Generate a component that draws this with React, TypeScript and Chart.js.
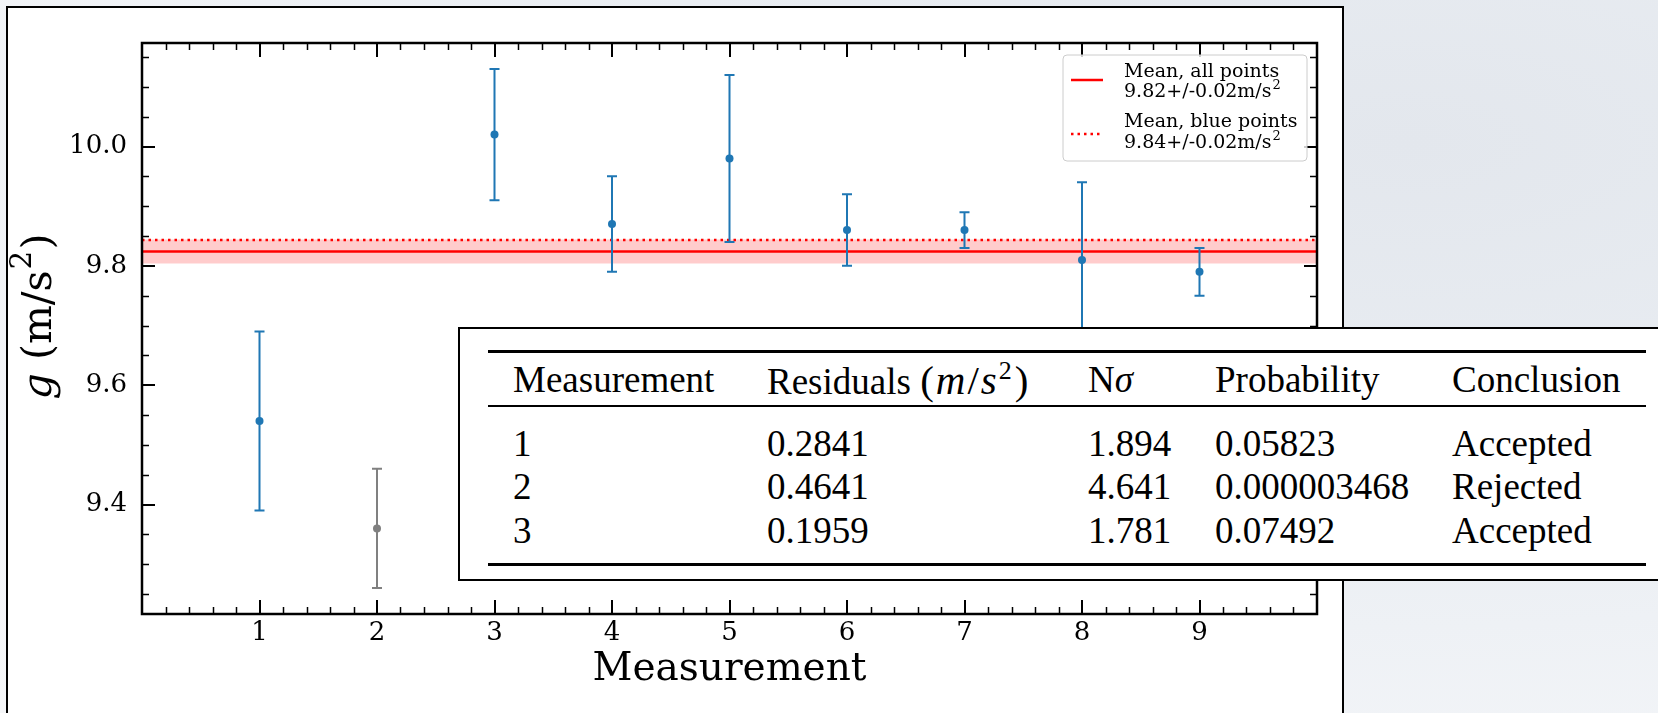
import React, { useEffect, useRef } from 'react';
import { Chart, registerables } from 'chart.js';

Chart.register(...registerables);

// ---------------- data ----------------
const MEASUREMENTS = [1, 2, 3, 4, 5, 6, 7, 8, 9];
const G_VALUES = [9.54, 9.36, 10.02, 9.87, 9.98, 9.86, 9.86, 9.81, 9.79];
const G_ERRORS = [0.15, 0.10, 0.11, 0.08, 0.14, 0.06, 0.03, 0.13, 0.04];
const REJECTED_MEASUREMENTS = [2];

const MEAN_ALL = 9.8241;
const MEAN_ALL_ERR = 0.02;
const MEAN_BLUE = 9.8433;

const X_RANGE = [0, 10];
const Y_RANGE = [9.2165, 10.1735];
const X_TICKS = [1, 2, 3, 4, 5, 6, 7, 8, 9];
const Y_TICKS = [9.4, 9.6, 9.8, 10.0];
const X_MINOR_STEP = 0.2;
const Y_MINOR_STEP = 0.05;

const LEGEND_ALL = ['Mean, all points', '9.82+/-0.02m/s', '2'];
const LEGEND_BLUE = ['Mean, blue points', '9.84+/-0.02m/s', '2'];

const X_TITLE = 'Measurement';

const TABLE_MEASUREMENT = ['1', '2', '3'];
const TABLE_RESIDUALS = ['0.2841', '0.4641', '0.1959'];
const TABLE_NSIGMA = ['1.894', '4.641', '1.781'];
const TABLE_PROBABILITY = ['0.05823', '0.000003468', '0.07492'];
const TABLE_CONCLUSION = ['Accepted', 'Rejected', 'Accepted'];

// ---------------- styles ----------------
const BLUE = '#1f77b4';
const GRAY = '#808080';
const RED = '#ff0000';
const SERIF = '"DejaVu Serif", serif';
const TABLE_FONT = '"Liberation Serif", "Times New Roman", serif';

const W = 1658;
const H = 713;

const errorBarPlugin = {
  id: 'errorBars',
  beforeDatasetDraw(chart: any, args: any) {
    if (args.index !== 0) return;
    const { ctx, scales } = chart;
    const xs = scales.x;
    const ys = scales.y;
    ctx.save();
    ctx.lineWidth = 2;
    MEASUREMENTS.forEach((m, i) => {
      const color = REJECTED_MEASUREMENTS.includes(m) ? GRAY : BLUE;
      const px = xs.getPixelForValue(m);
      const yTop = ys.getPixelForValue(G_VALUES[i] + G_ERRORS[i]);
      const yBot = ys.getPixelForValue(G_VALUES[i] - G_ERRORS[i]);
      ctx.strokeStyle = color;
      ctx.beginPath();
      ctx.moveTo(px, yTop);
      ctx.lineTo(px, yBot);
      ctx.moveTo(px - 5, yTop);
      ctx.lineTo(px + 5, yTop);
      ctx.moveTo(px - 5, yBot);
      ctx.lineTo(px + 5, yBot);
      ctx.stroke();
    });
    ctx.restore();
  },
};

function drawSup(ctx: any, x: number, y: number, base: string, sup: string, size: number, supSize: number) {
  ctx.font = `${size}px ${SERIF}`;
  ctx.textAlign = 'left';
  ctx.textBaseline = 'alphabetic';
  ctx.fillText(base, x, y);
  const w = ctx.measureText(base).width;
  ctx.font = `${supSize}px ${SERIF}`;
  ctx.fillText(sup, x + w + 1, y - size * 0.42);
}

const framePlugin = {
  id: 'frameTicks',
  afterDatasetsDraw(chart: any) {
    const { ctx, chartArea: ca, scales } = chart;
    const xs = scales.x;
    const ys = scales.y;
    ctx.save();
    ctx.strokeStyle = '#000';
    // minor ticks
    ctx.lineWidth = 1.5;
    ctx.beginPath();
    for (let v = X_RANGE[0] + X_MINOR_STEP; v < X_RANGE[1] - 1e-9; v += X_MINOR_STEP) {
      if (Math.abs(v - Math.round(v)) < 1e-6) continue;
      const p = Math.round(xs.getPixelForValue(v)) + 0.5;
      ctx.moveTo(p, ca.bottom);
      ctx.lineTo(p, ca.bottom - 7);
      ctx.moveTo(p, ca.top);
      ctx.lineTo(p, ca.top + 7);
    }
    for (let k = Math.ceil(Y_RANGE[0] / Y_MINOR_STEP); k * Y_MINOR_STEP < Y_RANGE[1]; k++) {
      const v = k * Y_MINOR_STEP;
      if (Y_TICKS.some((t) => Math.abs(t - v) < 1e-6)) continue;
      const p = Math.round(ys.getPixelForValue(v)) + 0.5;
      ctx.moveTo(ca.left, p);
      ctx.lineTo(ca.left + 7, p);
      ctx.moveTo(ca.right, p);
      ctx.lineTo(ca.right - 7, p);
    }
    ctx.stroke();
    // major ticks
    ctx.lineWidth = 2;
    ctx.beginPath();
    X_TICKS.forEach((v) => {
      const p = Math.round(xs.getPixelForValue(v));
      ctx.moveTo(p, ca.bottom);
      ctx.lineTo(p, ca.bottom - 14);
      ctx.moveTo(p, ca.top);
      ctx.lineTo(p, ca.top + 14);
    });
    Y_TICKS.forEach((v) => {
      const p = Math.round(ys.getPixelForValue(v));
      ctx.moveTo(ca.left, p);
      ctx.lineTo(ca.left + 13, p);
      ctx.moveTo(ca.right, p);
      ctx.lineTo(ca.right - 13, p);
    });
    ctx.stroke();
    // frame
    ctx.lineWidth = 2.5;
    ctx.strokeRect(ca.left, ca.top, ca.right - ca.left, ca.bottom - ca.top);

    // legend
    const bw = 244;
    const bh = 106;
    const bx = ca.right - 10 - bw;
    const by = ca.top + 12;
    ctx.beginPath();
    const r = 4;
    ctx.moveTo(bx + r, by);
    ctx.arcTo(bx + bw, by, bx + bw, by + bh, r);
    ctx.arcTo(bx + bw, by + bh, bx, by + bh, r);
    ctx.arcTo(bx, by + bh, bx, by, r);
    ctx.arcTo(bx, by, bx + bw, by, r);
    ctx.closePath();
    ctx.fillStyle = 'rgba(255,255,255,0.8)';
    ctx.fill();
    ctx.strokeStyle = '#cccccc';
    ctx.lineWidth = 1;
    ctx.stroke();

    ctx.strokeStyle = RED;
    ctx.lineWidth = 2.5;
    ctx.beginPath();
    ctx.moveTo(bx + 8, by + 25);
    ctx.lineTo(bx + 40, by + 25);
    ctx.stroke();
    ctx.setLineDash([2.5, 4]);
    ctx.beginPath();
    ctx.moveTo(bx + 8, by + 79);
    ctx.lineTo(bx + 40, by + 79);
    ctx.stroke();
    ctx.setLineDash([]);

    const fs = 19;
    ctx.fillStyle = '#000';
    ctx.font = `${fs}px ${SERIF}`;
    ctx.textAlign = 'left';
    ctx.textBaseline = 'alphabetic';
    ctx.fillText(LEGEND_ALL[0], bx + 61, by + 22);
    drawSup(ctx, bx + 61, by + 42, LEGEND_ALL[1], LEGEND_ALL[2], fs, 13);
    ctx.font = `${fs}px ${SERIF}`;
    ctx.fillText(LEGEND_BLUE[0], bx + 61, by + 72);
    drawSup(ctx, bx + 61, by + 93, LEGEND_BLUE[1], LEGEND_BLUE[2], fs, 13);

    ctx.restore();
  },
  afterDraw(chart: any) {
    const { ctx, chartArea: ca } = chart;
    ctx.save();
    ctx.translate(40, (ca.top + ca.bottom) / 2 - 12);
    ctx.rotate(-Math.PI / 2);
    ctx.fillStyle = '#000';
    ctx.textBaseline = 'middle';
    ctx.textAlign = 'left';
    const size = 41;
    const supSize = size * 0.72;
    ctx.font = `italic ${size}px ${SERIF}`;
    const g = 'g';
    const rest = ' (m/s';
    const sup = '2';
    const close = ')';
    const wg = ctx.measureText(g).width;
    ctx.font = `${size}px ${SERIF}`;
    const wr = ctx.measureText(rest).width;
    const wc = ctx.measureText(close).width;
    ctx.font = `${supSize}px ${SERIF}`;
    const ws = ctx.measureText(sup).width;
    const total = wg + wr + ws + wc + 2;
    let x = -total / 2;
    ctx.font = `italic ${size}px ${SERIF}`;
    ctx.fillText(g, x, 0);
    x += wg;
    ctx.font = `${size}px ${SERIF}`;
    ctx.fillText(rest, x, 0);
    x += wr + 1;
    ctx.font = `${supSize}px ${SERIF}`;
    ctx.fillText(sup, x, -size * 0.4);
    x += ws + 1;
    ctx.font = `${size}px ${SERIF}`;
    ctx.fillText(close, x, 0);
    ctx.restore();
  },
};

function ChartCanvas() {
  const ref = useRef<HTMLCanvasElement | null>(null);
  useEffect(() => {
    if (!ref.current) return;
    const points = MEASUREMENTS.map((m, i) => ({ x: m, y: G_VALUES[i] }));
    const colors = MEASUREMENTS.map((m) => (REJECTED_MEASUREMENTS.includes(m) ? GRAY : BLUE));
    const chart = new Chart(ref.current, {
      type: 'scatter',
      data: {
        datasets: [
          {
            label: 'g',
            data: points,
            pointRadius: 4,
            pointHoverRadius: 4,
            pointBackgroundColor: colors,
            pointBorderColor: colors,
            pointBorderWidth: 0,
          },
          {
            type: 'line',
            label: 'Mean, blue points',
            data: [
              { x: X_RANGE[0], y: MEAN_BLUE },
              { x: X_RANGE[1], y: MEAN_BLUE },
            ],
            borderColor: RED,
            borderWidth: 2.5,
            borderDash: [2.5, 4],
            pointRadius: 0,
            fill: false,
          },
          {
            type: 'line',
            label: 'Mean, all points',
            data: [
              { x: X_RANGE[0], y: MEAN_ALL },
              { x: X_RANGE[1], y: MEAN_ALL },
            ],
            borderColor: RED,
            borderWidth: 2.5,
            pointRadius: 0,
            fill: false,
          },
          {
            type: 'line',
            label: 'band',
            data: [
              { x: X_RANGE[0], y: MEAN_ALL + MEAN_ALL_ERR },
              { x: X_RANGE[1], y: MEAN_ALL + MEAN_ALL_ERR },
            ],
            borderWidth: 0,
            borderColor: 'rgba(0,0,0,0)',
            pointRadius: 0,
            backgroundColor: 'rgba(255,0,0,0.2)',
            fill: { value: MEAN_ALL - MEAN_ALL_ERR },
          },
        ] as any,
      },
      options: {
        animation: false,
        responsive: false,
        devicePixelRatio: 1,
        events: [],
        layout: { padding: { top: 43, right: W - 1317, left: 0, bottom: 0 } },
        plugins: {
          legend: { display: false },
          tooltip: { enabled: false },
        },
        scales: {
          x: {
            type: 'linear',
            min: X_RANGE[0],
            max: X_RANGE[1],
            afterBuildTicks: (s: any) => {
              s.ticks = X_TICKS.map((v) => ({ value: v }));
            },
            afterFit: (s: any) => {
              s.height = H - 614;
            },
            grid: { display: false, drawTicks: false },
            border: { display: false },
            ticks: {
              padding: 4,
              color: '#000',
              font: { family: SERIF, size: 26 },
              maxRotation: 0,
              autoSkip: false,
              callback: (v: any) => String(v),
            },
            title: {
              display: true,
              text: X_TITLE,
              color: '#000',
              font: { family: SERIF, size: 39 },
              padding: { top: 0, bottom: 20 },
            },
          },
          y: {
            type: 'linear',
            min: Y_RANGE[0],
            max: Y_RANGE[1],
            afterBuildTicks: (s: any) => {
              s.ticks = Y_TICKS.map((v) => ({ value: v }));
            },
            afterFit: (s: any) => {
              s.width = 142;
            },
            grid: { display: false, drawTicks: false },
            border: { display: false },
            ticks: {
              padding: 15,
              color: '#000',
              font: { family: SERIF, size: 26 },
              autoSkip: false,
              callback: (v: any) => Number(v).toFixed(1),
            },
          },
        },
      },
      plugins: [errorBarPlugin, framePlugin],
    } as any);
    return () => chart.destroy();
  }, []);
  return (
    <canvas
      ref={ref}
      width={W}
      height={H}
      style={{ position: 'absolute', left: 0, top: 0, width: W, height: H }}
    />
  );
}

const cellBase: React.CSSProperties = {
  position: 'absolute',
  whiteSpace: 'nowrap',
  height: 44,
  lineHeight: '44px',
  fontFamily: TABLE_FONT,
  fontSize: 37,
  color: '#000',
};

function ResultsTable() {
  const colX = [53, 307, 628, 755, 992];
  const rowY = [51, 115, 158, 202];
  const rows = TABLE_MEASUREMENT.map((m, i) => [
    m,
    TABLE_RESIDUALS[i],
    TABLE_NSIGMA[i],
    TABLE_PROBABILITY[i],
    TABLE_CONCLUSION[i],
  ]);
  const rule = (top: number, h: number): React.CSSProperties => ({
    position: 'absolute',
    left: 28,
    width: 1158,
    top: top - h / 2,
    height: h,
    background: '#000',
  });
  return (
    <div
      style={{
        position: 'absolute',
        left: 458,
        top: 327,
        width: 1300,
        height: 254,
        boxSizing: 'border-box',
        border: '2.5px solid #000',
        background: '#fff',
      }}
    >
      <div style={rule(22, 3)} />
      <div style={rule(77, 2)} />
      <div style={rule(235, 3)} />
      <div style={{ ...cellBase, left: colX[0], top: rowY[0] - 22 }}>Measurement</div>
      <div style={{ ...cellBase, left: colX[1], top: rowY[0] - 22 }}>
        Residuals{' '}
        <span style={{ fontSize: 41 }}>
          (<i style={{ marginLeft: 2 }}>m</i>
          <span style={{ margin: '0 2px' }}>/</span>
          <i>s</i>
          <sup style={{ fontSize: 26, lineHeight: 0, marginLeft: 2 }}>2</sup>
          <span style={{ marginLeft: 3 }}>)</span>
        </span>
      </div>
      <div style={{ ...cellBase, left: colX[2], top: rowY[0] - 22 }}>
        N<i>σ</i>
      </div>
      <div style={{ ...cellBase, left: colX[3], top: rowY[0] - 22 }}>Probability</div>
      <div style={{ ...cellBase, left: colX[4], top: rowY[0] - 22 }}>Conclusion</div>
      {rows.map((r, ri) =>
        r.map((txt, ci) => (
          <div key={`${ri}-${ci}`} style={{ ...cellBase, left: colX[ci], top: rowY[ri + 1] - 22 }}>
            {txt}
          </div>
        ))
      )}
    </div>
  );
}

export default function App() {
  return (
    <div
      style={{
        position: 'fixed',
        left: 0,
        top: 0,
        width: W,
        height: H,
        overflow: 'hidden',
        background:
          'radial-gradient(ellipse at 85% 20%, #e3e7ed 0%, #e9edf2 40%, #f3f5f8 80%, #f6f7f9 100%)',
      }}
    >
      <div
        style={{
          position: 'absolute',
          left: 6,
          top: 6,
          width: 1338,
          height: 800,
          boxSizing: 'border-box',
          border: '2px solid #000',
          background: '#fff',
        }}
      />
      <ChartCanvas />
      <ResultsTable />
    </div>
  );
}
